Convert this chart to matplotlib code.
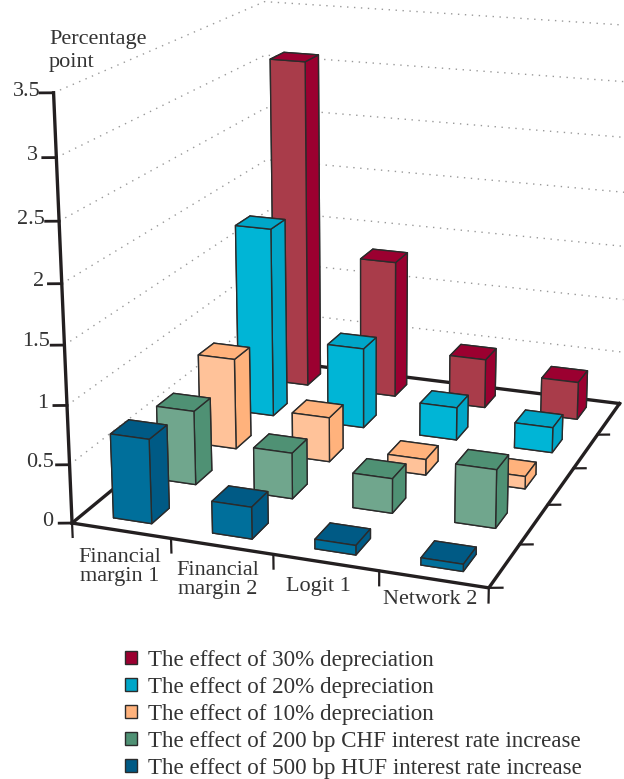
import numpy as np
import matplotlib
matplotlib.use('Agg')
import matplotlib.pyplot as plt
from matplotlib.patches import Patch

categories = ['Financial\nmargin 1', 'Financial\nmargin 2', 'Logit 1', 'Network 2']
series = ['The effect of 30% depreciation', 'The effect of 20% depreciation',
          'The effect of 10% depreciation', 'The effect of 200 bp CHF interest rate increase',
          'The effect of 500 bp HUF interest rate increase']
dep30 = [3.08, 1.29, 0.46, 0.35]
dep20 = [1.75, 0.74, 0.30, 0.23]
dep10 = [0.82, 0.40, 0.14, 0.11]
chf200 = [0.65, 0.40, 0.30, 0.50]
huf500 = [0.72, 0.27, 0.08, 0.06]
z_ticks = [0, 0.5, 1, 1.5, 2, 2.5, 3, 3.5]
z_labels = ['0', '0.5', '1', '1.5', '2', '2.5', '3', '3.5']

# front, side/top colour of each series
colors = [('#A93C4A', '#9B0030'), ('#00B5D6', '#00A6C8'), ('#FFC299', '#FFB27C'),
          ('#70A68D', '#4F9174'), ('#006F9B', '#005A85')]
rows = [dep30, dep20, dep10, chf200, huf500]

TXT = '#333333'
plt.rcParams['font.family'] = ['Liberation Serif', 'DejaVu Serif']

fig = plt.figure(figsize=(6.24, 7.79), dpi=100)
cx, cy, side_px = 354, 274.5, 800
ax = fig.add_axes([(cx - side_px / 2) / 624, 1 - (cy + side_px / 2) / 779, side_px / 624, side_px / 779],
                  projection='3d', computed_zorder=False)
ax.patch.set_alpha(0)
ax.set_proj_type('persp', focal_length=0.5)
ax.view_init(elev=17, azim=-70)
ax.set_xlim(0, 4, view_margin=0)
ax.set_ylim(0, 5, view_margin=0)
ax.set_zlim(0, 3.5, view_margin=0)
ax.set_box_aspect((485, 577, 490), zoom=0.936)
ax.set_axis_off()

# dotted wall grid
for z in z_ticks[1:]:
    ax.plot([0, 0, 4], [0, 5, 5], [z, z, z], color='#999999', lw=1, ls=(0, (1, 4)), zorder=1)

# floor edges behind the bars
ax.plot([0, 0, 4], [0, 5, 5], [0, 0, 0], color='#231f20', lw=2.4, zorder=2)
ax.plot([0, 0], [0, 0], [0, 3.5], color='#231f20', lw=2.4, zorder=2)

# bars, back row first
wx, wy = 0.39, 0.40
zo = 3
for j, vals in enumerate(rows):
    y = 0.45 + (4 - j) * 1.03
    front, side = colors[j]
    for i in [3, 2, 1, 0]:
        ax.bar3d(i + 0.5 - wx / 2, y - wy / 2, 0, wx, wy, vals[i], shade=False,
                 color=[side, side, front, front, side, side],
                 edgecolor='#2b2b2b', linewidth=1, zorder=zo)
        zo += 1

ax.plot([0, 4, 4], [0, 0, 5], [0, 0, 0], color='#231f20', lw=2.4, zorder=zo)
for z in z_ticks:
    ax.plot([0, -0.11], [0, -0.045], [z, z], color='#231f20', lw=2, zorder=zo)
for i in range(0, 5):
    ax.plot([i, i], [0, 0], [0, -0.12], color='#231f20', lw=1.6, zorder=zo)
for j in range(0, 5):
    ax.plot([4, 4.11], [j, j + 0.045], [0, 0], color='#231f20', lw=1.6, zorder=zo)

# tick labels
z_px = [(53, 521), (54, 463), (48, 403), (50, 342), (44, 281), (45, 219), (38, 156), (41, 92)]
for lab, (px, py) in zip(z_labels, z_px):
    fig.text(px / 624, 1 - py / 779, lab, ha='right', va='center', fontsize=16, color=TXT)
x_px = [(120, 567), (218, 580), (318, 586), (430, 600)]
for lab, (px, py) in zip(categories, x_px):
    fig.text(px / 624, 1 - py / 779, lab, ha='center', va='center', fontsize=16,
             color=TXT, linespacing=1.0)
fig.text(49 / 624, 1 - 51 / 779, 'Percentage\npoint', ha='left', va='center', fontsize=16,
         color=TXT, linespacing=1.3)

handles = [Patch(facecolor=c[1], edgecolor='#2b2b2b', lw=1) for c in colors]
fig.legend(handles, series, loc='lower left', bbox_to_anchor=(109 / 624, -16 / 779), frameon=False,
           fontsize=16.6, labelcolor=TXT, handlelength=0.5, handleheight=0.5,
           handletextpad=0.5, labelspacing=0.26, borderpad=0.2)

fig.savefig('out.png', dpi=100)
